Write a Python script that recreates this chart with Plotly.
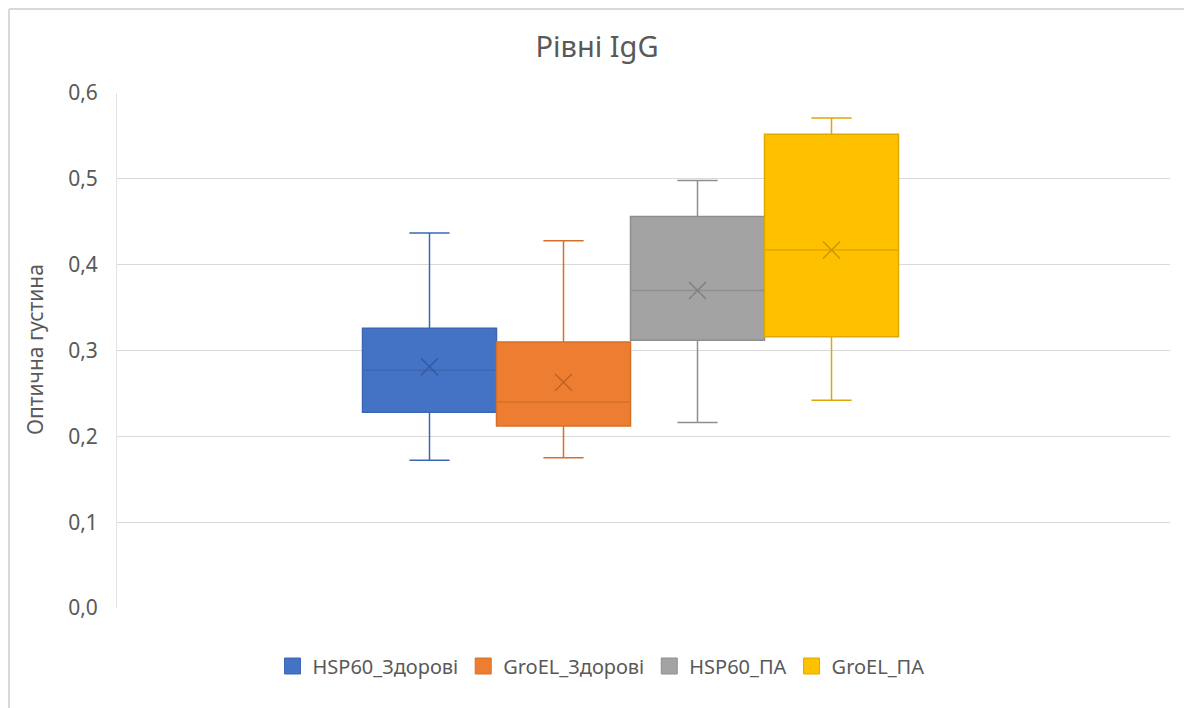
import plotly.graph_objects as go

# ---- data ----
series = ["HSP60_Здорові", "GroEL_Здорові", "HSP60_ПА", "GroEL_ПА"]
lower_fence = [0.172, 0.175, 0.216, 0.242]
q1 = [0.228, 0.212, 0.312, 0.316]
median = [0.277, 0.240, 0.370, 0.417]
q3 = [0.326, 0.310, 0.456, 0.552]
upper_fence = [0.437, 0.428, 0.498, 0.571]
mean = [0.281, 0.263, 0.370, 0.417]
y_ticks = [0.0, 0.1, 0.2, 0.3, 0.4, 0.5, 0.6]
y_tick_labels = ["0,0", "0,1", "0,2", "0,3", "0,4", "0,5", "0,6"]

# ---- styles ----
fill_colors = ["#4472C4", "#ED7D31", "#A3A3A3", "#FFC000"]
line_colors = ["#3C67B5", "#D4702B", "#8E8E8E", "#E0A800"]
mean_colors = ["#35599E", "#BD6425", "#7F7F7F", "#C99700"]
FONT = "Noto Sans"
TXT = "#595959"

W, H = 1184, 708
ML, MR, MT, MB = 117, 14, 93, 100
PW, PH = W - ML - MR, H - MT - MB


def px(xp):
    return (xp - ML) / PW


def py(yp):
    return (H - MB - yp) / PH


fig = go.Figure()
for i, name in enumerate(series):
    fig.add_trace(go.Box(
        x=[i], q1=[q1[i]], median=[median[i]], q3=[q3[i]],
        lowerfence=[lower_fence[i]], upperfence=[upper_fence[i]],
        name=name, width=1.0, whiskerwidth=0.3,
        fillcolor=fill_colors[i],
        line=dict(color=line_colors[i], width=1.5),
        boxpoints=False, showlegend=False, hoverinfo="skip",
    ))
    fig.add_trace(go.Scatter(
        x=[i], y=[mean[i]], mode="markers",
        marker=dict(symbol="x-thin", size=17,
                    line=dict(color=mean_colors[i], width=1.5)),
        showlegend=False, hoverinfo="skip",
    ))
    # legend entry
    fig.add_trace(go.Scatter(
        x=[None], y=[None], mode="markers", name=name,
        marker=dict(symbol="square", size=16, color=fill_colors[i],
                    line=dict(color=line_colors[i], width=1)),
    ))

unit = 134.0
left = -(429.5 - ML) / unit
fig.update_layout(
    width=W, height=H,
    margin=dict(l=ML, r=MR, t=MT, b=MB),
    paper_bgcolor="white", plot_bgcolor="white",
    font=dict(family=FONT, color=TXT, size=18),
    title=dict(text="Рівні IgG", x=597 / W, xref="container", xanchor="center",
               y=1 - 47 / H, yref="container", yanchor="middle",
               font=dict(size=29, color=TXT, family=FONT)),
    xaxis=dict(range=[left, left + PW / unit], showticklabels=False,
               showgrid=False, zeroline=False, showline=False, fixedrange=True),
    yaxis=dict(range=[0, 0.6], tickvals=y_ticks, ticktext=y_tick_labels,
               showgrid=True, gridcolor="#D9D9D9", gridwidth=1,
               zeroline=False, showline=True, linecolor="#E3E3E3", linewidth=1,
               ticks="outside", ticklen=14, tickcolor="rgba(0,0,0,0)",
               tickfont=dict(size=21, color=TXT)),
    showlegend=True,
    legend=dict(orientation="h", x=px(601), xanchor="center",
                y=py(666), yanchor="middle",
                font=dict(size=20, color=TXT), itemwidth=30,
                bgcolor="rgba(0,0,0,0)"),
    annotations=[dict(text="Оптична густина", x=px(35), y=py(350),
                      xref="paper", yref="paper", showarrow=False,
                      xanchor="center", yanchor="middle",
                      textangle=-90, font=dict(size=21, color=TXT))],
    shapes=[
        dict(type="line", xref="paper", yref="paper",
             x0=px(9), x1=px(9), y0=py(H + 5), y1=py(9),
             line=dict(color="#D9D9D9", width=2)),
        dict(type="line", xref="paper", yref="paper",
             x0=px(9), x1=px(W + 5), y0=py(9), y1=py(9),
             line=dict(color="#D9D9D9", width=2)),
    ],
)

fig.write_html("out.html", config={"displayModeBar": False},
               post_script="document.body.style.margin='0';")
